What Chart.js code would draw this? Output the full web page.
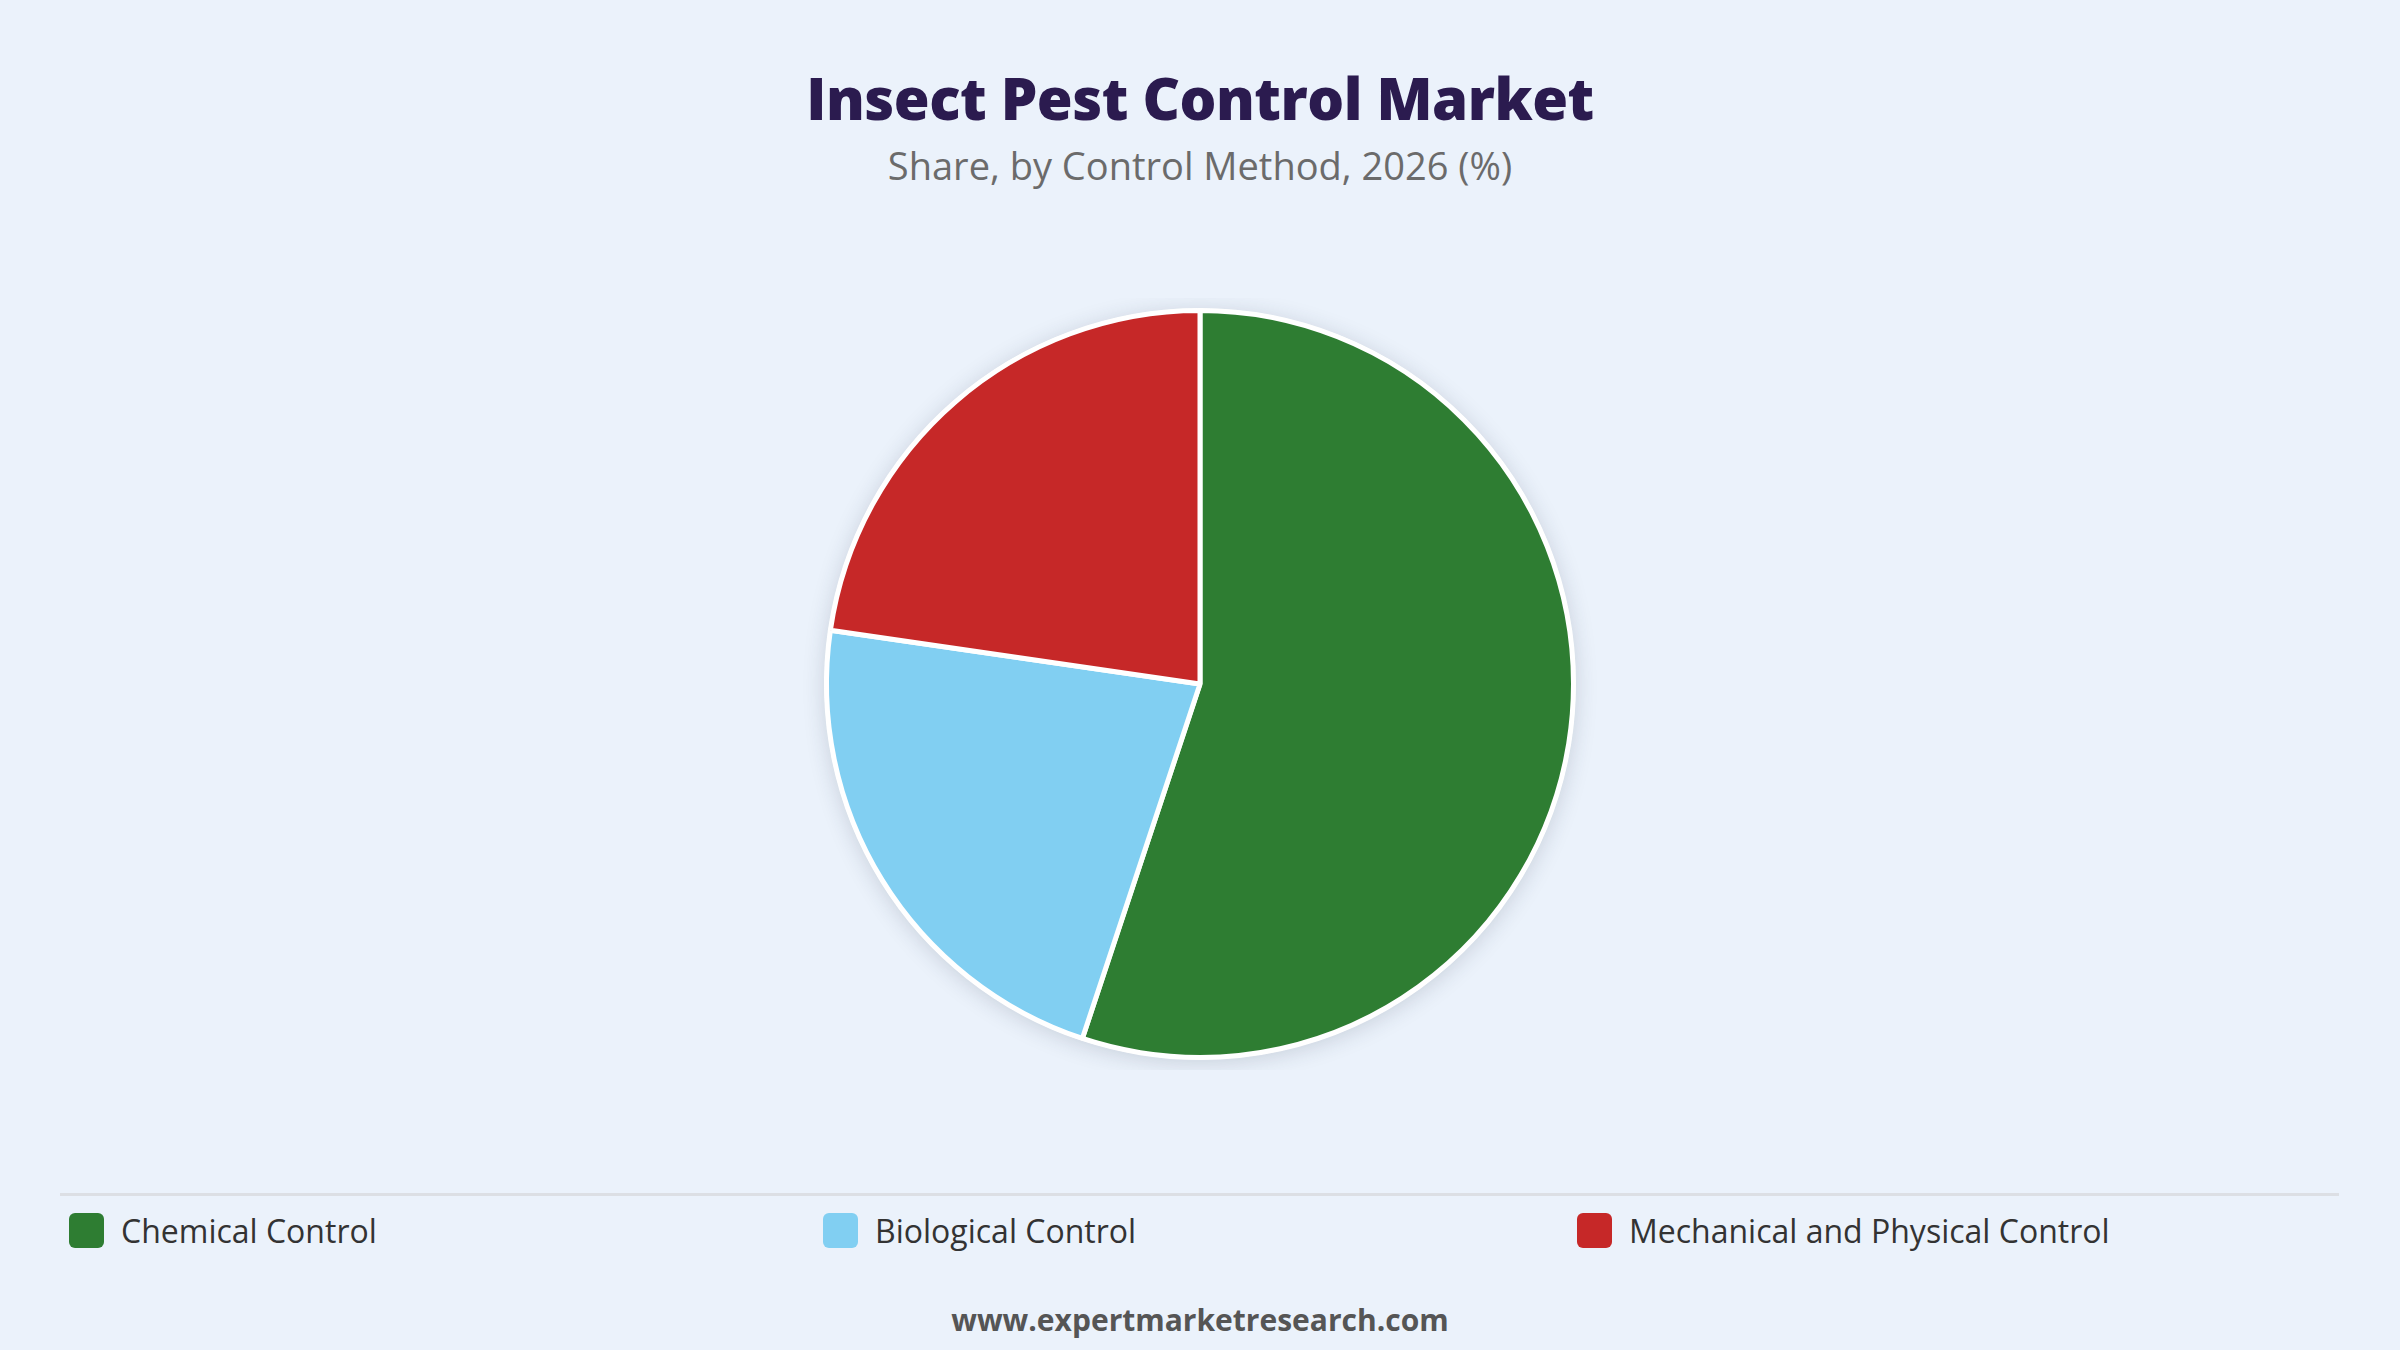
<!DOCTYPE html>
<html>
<head>
<meta charset="utf-8">
<script src="https://cdn.jsdelivr.net/npm/chart.js@4.4.1/dist/chart.umd.min.js"></script>
<style>
  html, body { margin: 0; padding: 0; }
  body {
    width: 2400px; height: 1350px; background: #ebf2fb;
    font-family: "Open Sans", "Noto Sans", sans-serif; position: relative; overflow: hidden;
  }
  #title {
    position: absolute; top: 58px; left: 0; width: 2400px; text-align: center;
    font-size: 58px; font-weight: 800; color: #2b1b4f; letter-spacing: -0.5px;
  }
  #subtitle {
    position: absolute; top: 139px; left: 0; width: 2400px; text-align: center;
    font-size: 38px; font-weight: 500; color: #6b6b6b;
  }
  #chart-box { position: absolute; left: 0; top: 298px; width: 2400px; height: 772px; }
  #divider { position: absolute; left: 60px; top: 1193px; width: 2279px; height: 3px; background: #dcdfe4; }
  #legend { position: absolute; left: 69px; top: 1209px; width: 2280px; display: flex; }
  .item { width: 754px; display: flex; align-items: center; font-size: 32px; color: #333; }
  .swatch { width: 35px; height: 35px; border-radius: 6px; margin-right: 17px; }
  #footer {
    position: absolute; top: 1299px; left: 0; width: 2400px; text-align: center;
    font-size: 30px; font-weight: 700; color: #555;
  }
</style>
</head>
<body>
<div id="title"></div>
<div id="subtitle"></div>
<div id="chart-box"><canvas id="pie"></canvas></div>
<div id="divider"></div>
<div id="legend"></div>
<div id="footer"></div>
<script>
const chartTitle = "Insect Pest Control Market";
const chartSubtitle = "Share, by Control Method, 2026 (%)";
const sourceText = "www.expertmarketresearch.com";

const methods = ["Chemical Control", "Biological Control", "Mechanical and Physical Control"];
const shares = [55.1, 22.2, 22.7];
const colors = ["#2e7d32", "#81cff2", "#c62828"];

document.getElementById("title").textContent = chartTitle;
document.getElementById("subtitle").textContent = chartSubtitle;
document.getElementById("footer").textContent = sourceText;

// legend in three equal columns
const legend = document.getElementById("legend");
methods.forEach((m, i) => {
  const item = document.createElement("div");
  item.className = "item";
  const sw = document.createElement("span");
  sw.className = "swatch";
  sw.style.background = colors[i];
  const label = document.createElement("span");
  label.textContent = m;
  item.appendChild(sw);
  item.appendChild(label);
  legend.appendChild(item);
});

// soft shadow behind the whole pie
const pieShadow = {
  id: "pieShadow",
  beforeDatasetsDraw(chart) {
    const arc = chart.getDatasetMeta(0).data[0];
    if (!arc) return;
    const ctx = chart.ctx;
    ctx.save();
    ctx.shadowColor = "rgba(40, 50, 70, 0.18)";
    ctx.shadowBlur = 22;
    ctx.shadowOffsetY = 3;
    ctx.beginPath();
    ctx.arc(arc.x, arc.y, arc.outerRadius + 2, 0, Math.PI * 2);
    ctx.fillStyle = "#ffffff";
    ctx.fill();
    ctx.restore();
  }
};

new Chart(document.getElementById("pie"), {
  type: "pie",
  data: {
    labels: methods,
    datasets: [{
      data: shares,
      backgroundColor: colors,
      borderColor: "#ffffff",
      borderWidth: 5
    }]
  },
  options: {
    responsive: true,
    maintainAspectRatio: false,
    animation: false,
    layout: { padding: 10 },
    plugins: {
      legend: { display: false },
      tooltip: { enabled: false }
    }
  },
  plugins: [pieShadow]
});
</script>
</body>
</html>
